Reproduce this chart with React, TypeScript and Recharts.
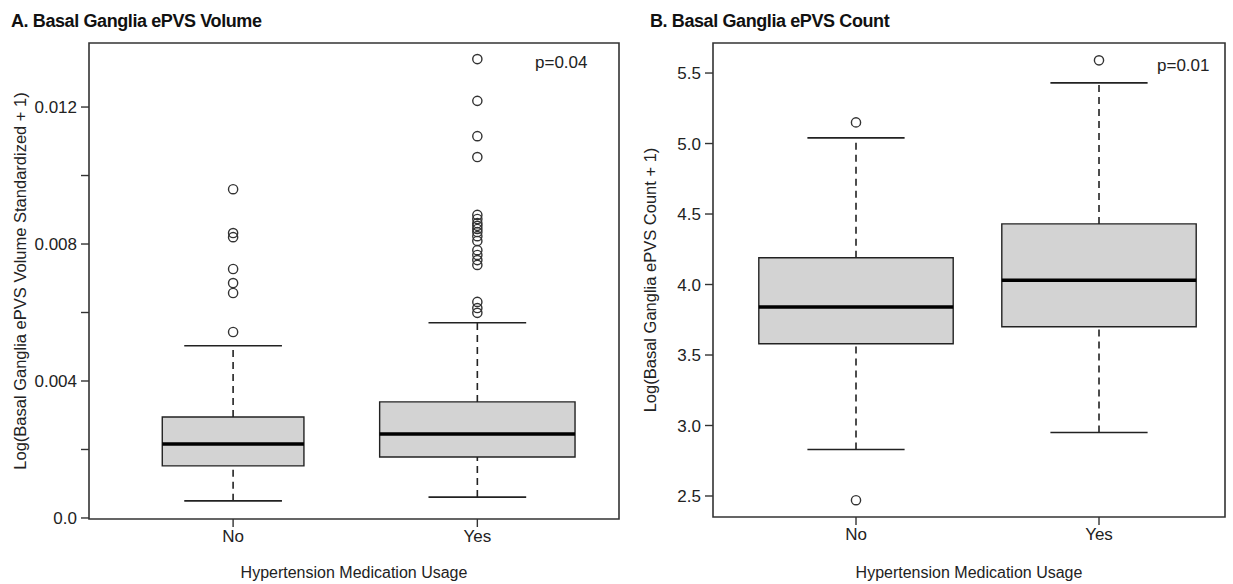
import React from "react";
import {
  ComposedChart,
  ReferenceArea,
  ReferenceLine,
  Scatter,
  XAxis,
  YAxis,
} from "recharts";

const groups = ["No", "Yes"];

// Basal ganglia ePVS volume: whisker ends, quartiles, median per group
const volLow = [0.0005, 0.00061];
const volQ1 = [0.00152, 0.00178];
const volMed = [0.00216, 0.00245];
const volQ3 = [0.00295, 0.00339];
const volHigh = [0.00503, 0.0057];
const volOutNo = [0.00543, 0.00657, 0.00686, 0.00727, 0.0082, 0.00832, 0.0096];
const volOutYes = [
  0.00599, 0.00613, 0.00631, 0.00739, 0.00753, 0.00768, 0.00782, 0.00809,
  0.00823, 0.00835, 0.00844, 0.00853, 0.00861, 0.00873, 0.00885, 0.01054,
  0.01115, 0.01218, 0.0134,
];
const volTicks = [0, 0.002, 0.004, 0.006, 0.008, 0.01, 0.012];
const volTickLabels = ["0.0", "", "0.004", "", "0.008", "", "0.012"];

// Basal ganglia ePVS count
const cntLow = [2.83, 2.95];
const cntQ1 = [3.58, 3.7];
const cntMed = [3.84, 4.03];
const cntQ3 = [4.19, 4.43];
const cntHigh = [5.04, 5.43];
const cntOutNo = [2.47, 5.15];
const cntOutYes = [5.59];
const cntTicks = [2.5, 3, 3.5, 4, 4.5, 5, 5.5];
const cntTickLabels = ["2.5", "3.0", "3.5", "4.0", "4.5", "5.0", "5.5"];

const FONT = "'Liberation Sans', Arial, sans-serif";
const INK = "#222";
const CAP_HALF = 0.2;

const Outlier = (props: any) => (
  <circle cx={props.cx} cy={props.cy} r={4.6} fill="none" stroke="#333" strokeWidth={1.4} />
);

type PanelProps = {
  width: number;
  height: number;
  plotLeft: number;
  plotRight: number;
  plotTop: number;
  plotBottom: number;
  xDomain: [number, number];
  yDomain: [number, number];
  yTicks: number[];
  yTickLabels: string[];
  yLabel: string;
  yLabelOffset: number;
  boxHalf: number[];
  low: number[];
  q1: number[];
  med: number[];
  q3: number[];
  high: number[];
  outliers: number[][];
};

const BoxPanel = (p: PanelProps) => {
  const points = p.outliers.flatMap((vals, i) => vals.map((v) => ({ x: i + 1, y: v })));
  return (
    <ComposedChart
      width={p.width}
      height={p.height}
      margin={{ top: p.plotTop, right: p.width - p.plotRight, bottom: 0, left: 0 }}
      style={{ fontFamily: FONT }}
    >
      <XAxis
        type="number"
        dataKey="x"
        domain={p.xDomain}
        allowDataOverflow
        ticks={[1, 2]}
        tickFormatter={(v) => groups[v - 1]}
        height={p.height - p.plotBottom}
        axisLine={false}
        tickLine={{ stroke: "#333", strokeWidth: 1.4 }}
        tickSize={8}
        tickMargin={3}
        tick={{ fontSize: 17, fill: INK }}
        label={{
          value: "Hypertension Medication Usage",
          position: "insideBottom",
          offset: 6,
          fontSize: 16,
          fill: INK,
        }}
      />
      <YAxis
        type="number"
        dataKey="y"
        domain={p.yDomain}
        allowDataOverflow
        ticks={p.yTicks}
        tickFormatter={(v) => p.yTickLabels[p.yTicks.indexOf(v)] ?? ""}
        width={p.plotLeft}
        axisLine={false}
        tickLine={{ stroke: "#333", strokeWidth: 1.4 }}
        tickSize={8}
        tickMargin={4}
        tick={{ fontSize: 17, fill: INK }}
        label={{
          value: p.yLabel,
          angle: -90,
          position: "insideLeft",
          offset: p.yLabelOffset,
          fontSize: 16.5,
          fill: INK,
          style: { textAnchor: "middle" },
        }}
      />
      {groups.map((g, i) => {
        const x = i + 1;
        const half = p.boxHalf[i];
        return (
          <React.Fragment key={g}>
            <ReferenceLine
              segment={[{ x, y: p.q3[i] }, { x, y: p.high[i] }]}
              stroke="#222"
              strokeWidth={1.6}
              strokeDasharray="7 5"
            />
            <ReferenceLine
              segment={[{ x, y: p.low[i] }, { x, y: p.q1[i] }]}
              stroke="#222"
              strokeWidth={1.6}
              strokeDasharray="7 5"
            />
            <ReferenceLine
              segment={[{ x: x - CAP_HALF, y: p.high[i] }, { x: x + CAP_HALF, y: p.high[i] }]}
              stroke="#222"
              strokeWidth={1.6}
            />
            <ReferenceLine
              segment={[{ x: x - CAP_HALF, y: p.low[i] }, { x: x + CAP_HALF, y: p.low[i] }]}
              stroke="#222"
              strokeWidth={1.6}
            />
            <ReferenceArea
              x1={x - half}
              x2={x + half}
              y1={p.q1[i]}
              y2={p.q3[i]}
              fill="#d3d3d3"
              fillOpacity={1}
              stroke="#222"
              strokeWidth={1.4}
            />
            <ReferenceLine
              segment={[{ x: x - half, y: p.med[i] }, { x: x + half, y: p.med[i] }]}
              stroke="#000"
              strokeWidth={3.5}
            />
          </React.Fragment>
        );
      })}
      <Scatter data={points} dataKey="y" shape={Outlier} isAnimationActive={false} />
      <ReferenceArea
        x1={p.xDomain[0]}
        x2={p.xDomain[1]}
        y1={p.yDomain[0]}
        y2={p.yDomain[1]}
        fill="none"
        stroke="#333"
        strokeWidth={1.6}
        ifOverflow="visible"
      />
    </ComposedChart>
  );
};

const titleStyle: React.CSSProperties = {
  position: "absolute",
  fontFamily: FONT,
  fontWeight: "bold",
  fontSize: 18,
  lineHeight: 1,
  letterSpacing: -0.4,
  color: "#111",
  whiteSpace: "nowrap",
};

const pStyle: React.CSSProperties = {
  position: "absolute",
  fontFamily: FONT,
  fontSize: 17,
  lineHeight: 1,
  color: INK,
  whiteSpace: "nowrap",
};

export default function App() {
  return (
    <div
      style={{
        position: "absolute",
        left: 0,
        top: 0,
        width: 1233,
        height: 584,
        background: "#fff",
        overflow: "hidden",
      }}
    >
      <div style={{ position: "absolute", left: 0, top: 0 }}>
        <BoxPanel
          width={640}
          height={584}
          plotLeft={89}
          plotRight={619}
          plotTop={43}
          plotBottom={519}
          xDomain={[0.41, 2.58]}
          yDomain={[-0.00003, 0.01387]}
          yTicks={volTicks}
          yTickLabels={volTickLabels}
          yLabel="Log(Basal Ganglia ePVS Volume Standardized + 1)"
          yLabelOffset={20}
          boxHalf={[0.29, 0.4]}
          low={volLow}
          q1={volQ1}
          med={volMed}
          q3={volQ3}
          high={volHigh}
          outliers={[volOutNo, volOutYes]}
        />
      </div>
      <div style={{ position: "absolute", left: 640, top: 0 }}>
        <BoxPanel
          width={593}
          height={584}
          plotLeft={73}
          plotRight={585}
          plotTop={43}
          plotBottom={517}
          xDomain={[0.4115, 2.5185]}
          yDomain={[2.351, 5.713]}
          yTicks={cntTicks}
          yTickLabels={cntTickLabels}
          yLabel="Log(Basal Ganglia ePVS Count + 1)"
          yLabelOffset={10}
          boxHalf={[0.4, 0.4]}
          low={cntLow}
          q1={cntQ1}
          med={cntMed}
          q3={cntQ3}
          high={cntHigh}
          outliers={[cntOutNo, cntOutYes]}
        />
      </div>
      <div style={{ ...titleStyle, left: 11, top: 12 }}>A. Basal Ganglia ePVS Volume</div>
      <div style={{ ...titleStyle, left: 650, top: 12 }}>B. Basal Ganglia ePVS Count</div>
      <div style={{ ...pStyle, left: 535, top: 54 }}>p=0.04</div>
      <div style={{ ...pStyle, left: 1157, top: 57 }}>p=0.01</div>
    </div>
  );
}
